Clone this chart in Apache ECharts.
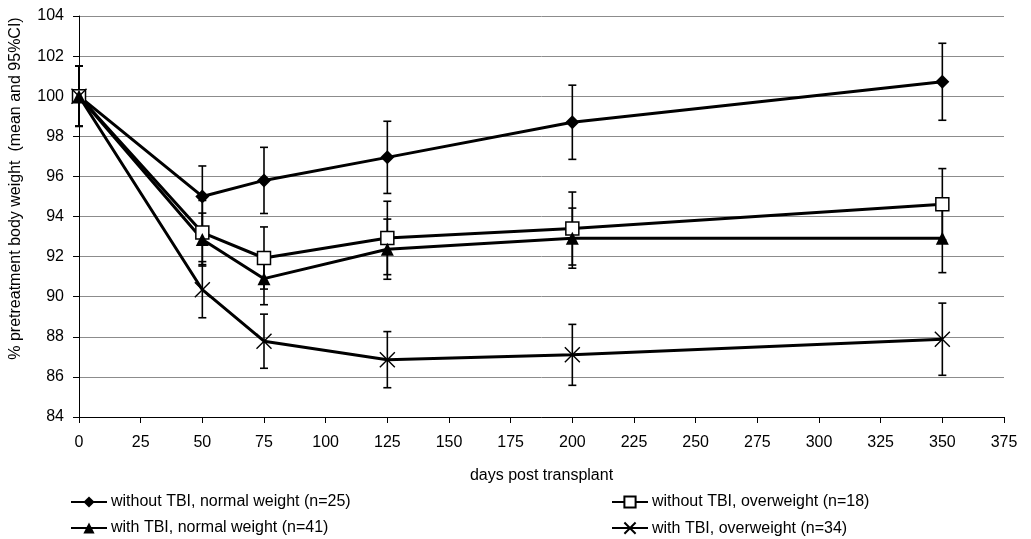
<!DOCTYPE html>
<html>
<head>
<meta charset="utf-8">
<script src="https://cdn.jsdelivr.net/npm/echarts@6/dist/echarts.min.js"></script>
<style>html,body{margin:0;padding:0;background:#fff}#c{width:1031px;height:539px}</style>
</head>
<body>
<div id="c"></div>
<script>
const days = [0, 50, 75, 125, 200, 350];
const seriesNames = [
  'without TBI, normal weight (n=25)',
  'without TBI, overweight (n=18)',
  'with TBI, normal weight (n=41)',
  'with TBI, overweight (n=34)'
];
const noTbiNormal = [100, 95.0, 95.8, 96.95, 98.7, 100.72];
const noTbiOver   = [100, 93.2, 91.93, 92.93, 93.4, 94.61];
const tbiNormal   = [100, 92.85, 90.9, 92.37, 92.92, 92.92];
const tbiOver     = [100, 90.35, 87.78, 86.86, 87.1, 87.88];
const ciNoTbiNormal = [1.5, 1.52, 1.65, 1.8, 1.85, 1.92];
const ciNoTbiOver   = [1.5, 1.6, 1.55, 1.83, 1.82, 1.78];
const ciTbiNormal   = [1.5, 1.32, 1.3, 1.5, 1.5, 1.72];
const ciTbiOver     = [1.5, 1.4, 1.35, 1.4, 1.52, 1.8];
const xTicks = {min: 0, max: 375, step: 25};
const yTicks = {min: 84, max: 104, step: 2};

const FONT = 'Liberation Sans';
const FS = 16;
const means = [noTbiNormal, noTbiOver, tbiNormal, tbiOver];
const cis = [ciNoTbiNormal, ciNoTbiOver, ciTbiNormal, ciTbiOver];
const symbols = ['diamond', 'rect', 'triangle', 'path://M0,0L10,10M10,0L0,10'];
const symSizes = [14, 13, 13, 15];
const fills = ['#000', '#fff', '#000', 'none'];

const series = [];
means.forEach((m, i) => {
  series.push({
    type: 'custom',
    silent: true,
    z: 1,
    data: days.map((d, k) => [d, m[k] - cis[i][k], m[k] + cis[i][k]]),
    renderItem: function (params, api) {
      const lo = api.coord([api.value(0), api.value(1)]);
      const hi = api.coord([api.value(0), api.value(2)]);
      const w = 4;
      const st = {stroke: '#000', lineWidth: 1.6};
      return {type: 'group', children: [
        {type: 'line', shape: {x1: lo[0], y1: lo[1], x2: hi[0], y2: hi[1]}, style: st},
        {type: 'line', shape: {x1: lo[0] - w, y1: lo[1], x2: lo[0] + w, y2: lo[1]}, style: st},
        {type: 'line', shape: {x1: hi[0] - w, y1: hi[1], x2: hi[0] + w, y2: hi[1]}, style: st}
      ]};
    }
  });
});
means.forEach((m, i) => {
  series.push({
    name: seriesNames[i],
    type: 'line',
    z: 3,
    data: days.map((d, k) => [d, m[k]]),
    symbol: symbols[i],
    symbolSize: symSizes[i],
    showAllSymbol: true,
    lineStyle: {color: '#000', width: 3},
    itemStyle: {color: fills[i], borderColor: '#000', borderWidth: i === 1 ? 1.5 : (i === 3 ? 1.4 : 0)},
    emphasis: {disabled: true},
    animation: false
  });
});

const legendCommon = {
  orient: 'vertical',
  padding: 0,
  itemWidth: 36,
  itemHeight: 14,
  itemGap: 10,
  textStyle: {fontFamily: FONT, fontSize: FS, lineHeight: 16, color: '#000', padding: [0, 0, 0, -1]},
  selectedMode: false
};

const chart = echarts.init(document.getElementById('c'), null, {renderer: 'canvas'});
chart.setOption({
  animation: false,
  backgroundColor: '#fff',
  grid: {left: 78, right: 27, top: 16, bottom: 122, containLabel: false},
  legend: [
    Object.assign({}, legendCommon, {left: 70, top: 494, data: [seriesNames[0], seriesNames[2]]}),
    Object.assign({}, legendCommon, {left: 611, top: 494, data: [seriesNames[1], seriesNames[3]]})
  ],
  xAxis: {
    type: 'value',
    min: xTicks.min, max: xTicks.max, interval: xTicks.step,
    name: 'days post transplant',
    nameLocation: 'middle',
    nameGap: 51,
    nameTextStyle: {fontFamily: FONT, fontSize: FS, color: '#000'},
    axisLine: {lineStyle: {color: '#000', width: 1}},
    axisTick: {show: true, inside: false, length: 6, lineStyle: {color: '#000'}},
    axisLabel: {fontFamily: FONT, fontSize: FS, color: '#000', margin: 18},
    splitLine: {show: false}
  },
  yAxis: {
    type: 'value',
    min: yTicks.min, max: yTicks.max, interval: yTicks.step,
    name: '% pretreatment body weight  (mean and 95%CI)',
    nameLocation: 'middle',
    nameRotate: 90,
    nameGap: 55,
    nameTextStyle: {fontFamily: FONT, fontSize: FS, color: '#000', padding: [0, 0, 0, 56]},
    axisLine: {show: true, lineStyle: {color: '#000', width: 1}},
    axisTick: {show: true, inside: false, length: 6, lineStyle: {color: '#000'}},
    axisLabel: {fontFamily: FONT, fontSize: FS, color: '#000', margin: 15},
    splitLine: {show: true, lineStyle: {color: '#8c8c8c', width: 1}}
  },
  series: series
});
</script>
</body>
</html>
